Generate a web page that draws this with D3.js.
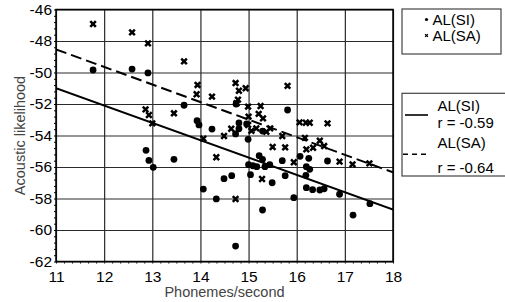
<!DOCTYPE html>
<html>
<head>
<meta charset="utf-8">
<script src="https://cdn.jsdelivr.net/npm/d3@7"></script>
<style>
  body { margin: 0; background: #fff; }
  svg { display: block; font-family: "Liberation Sans", Arial, sans-serif; }
</style>
</head>
<body>
<div id="chart"></div>
<script>
// phonemes/second vs acoustic likelihood
var siRate = [11.77, 12.58, 12.91, 13.66, 13.93, 13.97, 12.87, 12.93, 13.02, 13.45,
  14.06, 14.33, 14.49, 14.65, 14.73, 15.0, 15.04, 15.22, 15.29, 15.09,
  15.17, 15.34, 15.44, 15.49, 15.76, 15.70, 15.29, 15.94, 16.07, 16.25,
  16.2, 16.27, 16.19, 16.2, 16.33, 16.48, 16.57, 16.64, 16.89, 17.17,
  17.52, 14.24, 14.73, 14.8, 14.8, 14.96, 14.99, 15.29, 15.81, 14.74];
var siLik = [-49.84, -49.78, -50.03, -52.08, -53.06, -53.33, -54.94, -55.58, -56.02, -55.51,
  -57.4, -58.03, -56.74, -56.55, -61.02, -55.85, -56.49, -55.28, -55.51, -55.92,
  -55.98, -55.98, -55.85, -57.0, -56.55, -55.6, -58.73, -57.95, -55.32, -55.45,
  -55.98, -56.15, -56.53, -57.31, -57.44, -57.46, -57.38, -55.62, -57.73, -59.05,
  -58.33, -53.59, -53.9, -53.2, -53.57, -53.27, -54.24, -53.72, -52.38, -52.0];

var saRate = [11.77, 12.58, 12.91, 13.66, 13.94, 13.92, 12.86, 12.93, 13.0, 13.45,
  14.06, 14.24, 14.73, 14.8, 14.94, 14.78, 14.75, 14.99, 15.25, 15.21,
  15.3, 15.0, 14.64, 14.49, 14.99, 15.06, 15.16, 15.37, 15.45, 15.81,
  15.70, 15.5, 15.76, 16.06, 16.19, 16.27, 16.64, 16.17, 16.48, 16.57,
  16.34, 16.2, 16.89, 17.16, 17.51, 15.94, 14.33, 14.73, 15.28];
var saLik = [-46.92, -47.45, -48.15, -49.29, -50.79, -51.38, -52.34, -52.70, -53.23, -52.59,
  -54.2, -51.53, -50.67, -51.16, -51.0, -51.72, -51.95, -52.17, -52.13, -52.63,
  -52.91, -52.8, -53.57, -54.03, -53.33, -53.71, -53.55, -53.76, -53.55, -50.85,
  -54.03, -54.73, -54.75, -53.17, -53.19, -53.19, -53.23, -54.15, -54.33, -54.67,
  -54.78, -54.88, -55.66, -55.83, -55.77, -55.7, -55.38, -58.03, -56.76];

// regression lines (end points at x = 11 and x = 18)
var fitX = [11, 18];
var siFit = [-51.0, -58.7];
var saFit = [-48.53, -56.34];

var xTicks = [11, 12, 13, 14, 15, 16, 17, 18];
var yTicks = [-62, -60, -58, -56, -54, -52, -50, -48, -46];
var legendNames = ["AL(SI)", "AL(SA)"];
var rValues = ["r = -0.59", "r = -0.64"];

var svgWidth = 505;
var svgHeight = 302;
var margin = { top: 9.5, right: 112, bottom: 40.5, left: 56 };
var chartWidth = svgWidth - margin.left - margin.right;
var chartHeight = svgHeight - margin.top - margin.bottom;

var svg = d3.select("#chart").append("svg")
  .attr("width", svgWidth)
  .attr("height", svgHeight);

var chartGroup = svg.append("g")
  .attr("transform", `translate(${margin.left},${margin.top})`);

var x = d3.scaleLinear().domain([11, 18]).range([0, chartWidth]);
var y = d3.scaleLinear().domain([-62, -46]).range([chartHeight, 0]);

svg.append("defs").append("clipPath").attr("id", "plotclip")
  .append("rect").attr("width", chartWidth).attr("height", chartHeight);

// minor ticks
chartGroup.append("g")
  .attr("transform", `translate(0,${chartHeight})`)
  .call(d3.axisBottom(x).tickValues(d3.range(11, 18.001, 1 / 6)).tickSize(2).tickFormat(""))
  .call(g => g.select(".domain").remove())
  .selectAll("line").attr("stroke", "#000");
chartGroup.append("g")
  .call(d3.axisLeft(y).tickValues(d3.range(-62, -45.99, 0.4)).tickSize(2).tickFormat(""))
  .call(g => g.select(".domain").remove())
  .selectAll("line").attr("stroke", "#000");

// grid + labels
var xAxis = chartGroup.append("g")
  .attr("transform", `translate(0,${chartHeight})`)
  .call(d3.axisBottom(x).tickValues(xTicks).tickSize(-chartHeight).tickPadding(9).tickFormat(d => String(d)));
xAxis.select(".domain").remove();
xAxis.selectAll("line").attr("stroke", "#2a2a2a").attr("stroke-width", 1.2);
xAxis.selectAll("text").attr("font-size", "15.5px").attr("fill", "#000")
  .style("font-family", "Liberation Sans, Arial, sans-serif");

var yAxis = chartGroup.append("g")
  .call(d3.axisLeft(y).tickValues(yTicks).tickSize(-chartWidth).tickPadding(4).tickFormat(d => String(d)));
yAxis.select(".domain").remove();
yAxis.selectAll("line").attr("stroke", "#2a2a2a").attr("stroke-width", 1.2);
yAxis.selectAll("text").attr("font-size", "15.5px").attr("fill", "#000")
  .style("font-family", "Liberation Sans, Arial, sans-serif");

chartGroup.append("rect")
  .attr("width", chartWidth).attr("height", chartHeight)
  .attr("fill", "none").attr("stroke", "#000").attr("stroke-width", 1.5);

// regression lines
var line = d3.line().x(d => x(d[0])).y(d => y(d[1]));
var fits = chartGroup.append("g").attr("clip-path", "url(#plotclip)");
fits.append("path")
  .attr("d", line(d3.zip(fitX, siFit)))
  .attr("stroke", "#000").attr("stroke-width", 2).attr("fill", "none");
fits.append("path")
  .attr("d", line(d3.zip(fitX, saFit)))
  .attr("stroke", "#000").attr("stroke-width", 2).attr("fill", "none")
  .attr("stroke-dasharray", "11,5");

// points
chartGroup.selectAll("circle.si")
  .data(d3.zip(siRate, siLik))
  .enter().append("circle")
  .attr("class", "si")
  .attr("cx", d => x(d[0]))
  .attr("cy", d => y(d[1]))
  .attr("r", 3.4)
  .attr("fill", "#000");

var cross = "M-2.8,-2.8L2.8,2.8M-2.8,2.8L2.8,-2.8";
chartGroup.selectAll("path.sa")
  .data(d3.zip(saRate, saLik))
  .enter().append("path")
  .attr("class", "sa")
  .attr("transform", d => `translate(${x(d[0])},${y(d[1])})`)
  .attr("d", cross)
  .attr("stroke", "#000")
  .attr("stroke-width", 2.5)
  .attr("fill", "none");

// axis titles
svg.append("text")
  .attr("x", margin.left + chartWidth / 2)
  .attr("y", 297)
  .attr("text-anchor", "middle")
  .attr("font-size", "14.5px")
  .attr("fill", "#444")
  .text("Phonemes/second");

svg.append("text")
  .attr("transform", `translate(25,${margin.top + chartHeight / 2}) rotate(-90)`)
  .attr("text-anchor", "middle")
  .attr("font-size", "14.5px")
  .attr("fill", "#444")
  .text("Acoustic likelihood");

// legend 1: markers
var leg1 = svg.append("g");
leg1.append("rect").attr("x", 402).attr("y", 9).attr("width", 99).attr("height", 45)
  .attr("fill", "#fff").attr("stroke", "#444").attr("stroke-width", 1.2);
leg1.append("circle").attr("cx", 426.5).attr("cy", 19.5).attr("r", 1.6).attr("fill", "#000");
leg1.append("path").attr("transform", "translate(426.5,35.5)")
  .attr("d", "M-1.4,-1.4L1.4,1.4M-1.4,1.4L1.4,-1.4")
  .attr("stroke", "#000").attr("stroke-width", 1.3);
leg1.selectAll("text").data(legendNames).enter().append("text")
  .attr("x", 432.5).attr("y", (d, i) => 25 + i * 16)
  .attr("font-size", "15px").attr("fill", "#000")
  .text(d => d);

// legend 2: fit lines
var leg2 = svg.append("g");
leg2.append("rect").attr("x", 402).attr("y", 93.3).attr("width", 110).attr("height", 82.7)
  .attr("fill", "#fff").attr("stroke", "#444").attr("stroke-width", 1.2);
leg2.append("line").attr("x1", 405).attr("x2", 428).attr("y1", 115).attr("y2", 115)
  .attr("stroke", "#000").attr("stroke-width", 1.6);
leg2.append("line").attr("x1", 403).attr("x2", 428).attr("y1", 154.3).attr("y2", 154.3)
  .attr("stroke", "#000").attr("stroke-width", 1.6).attr("stroke-dasharray", "5,4");
legendNames.forEach(function(name, i) {
  leg2.append("text").attr("x", 437.5).attr("y", 111 + i * 37)
    .attr("font-size", "15px").text(name);
  leg2.append("text").attr("x", 437.5).attr("y", 128 + i * 45)
    .attr("font-size", "15px").text(rValues[i]);
});
</script>
</body>
</html>
